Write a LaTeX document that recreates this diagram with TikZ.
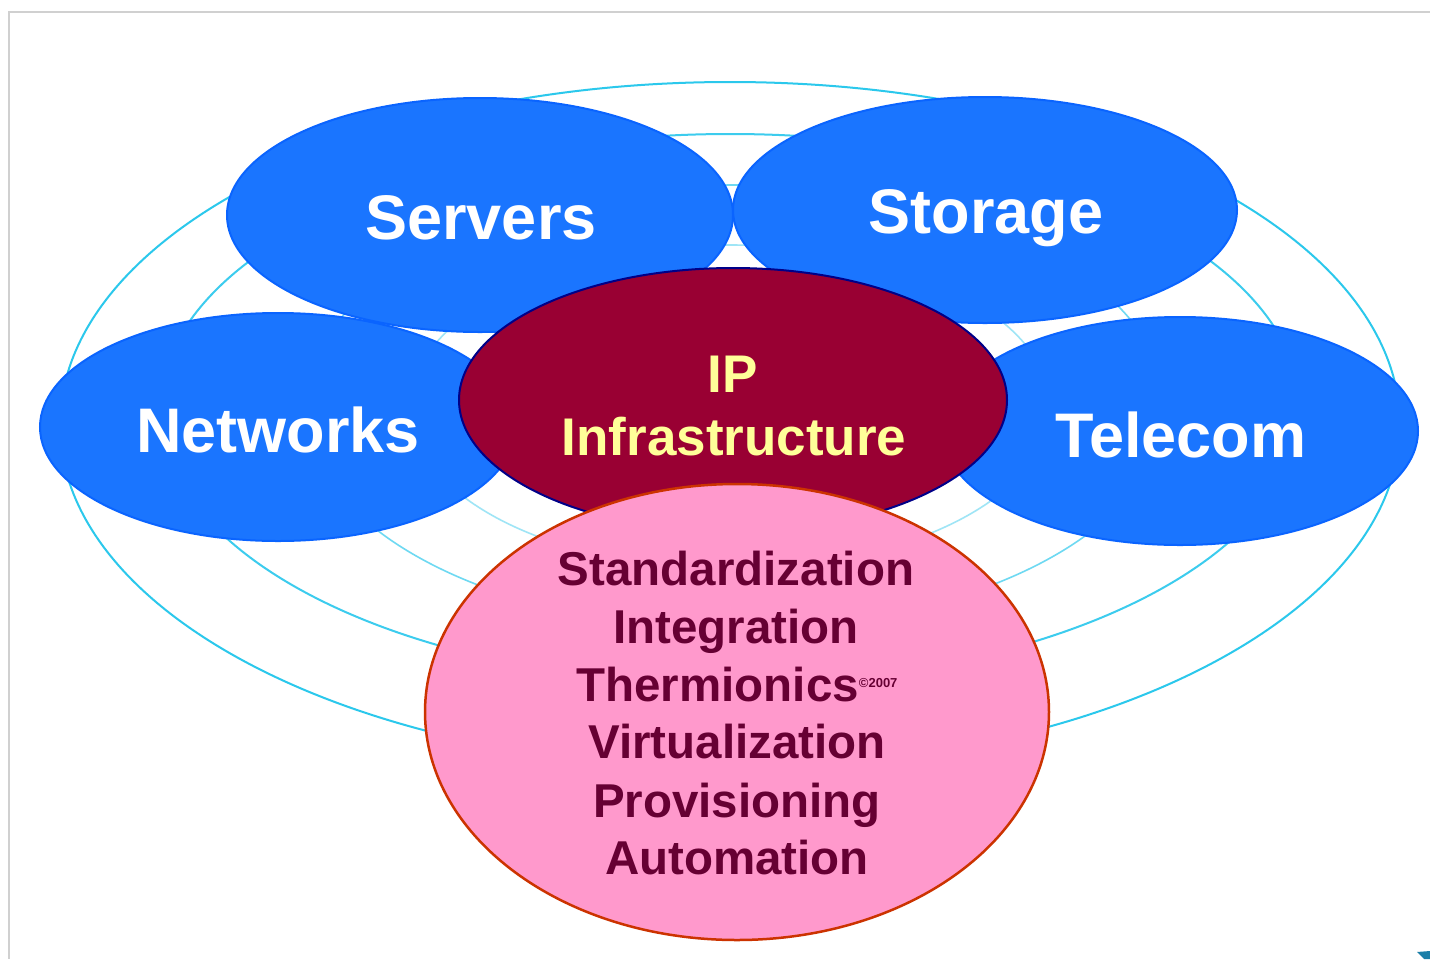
\documentclass[tikz,border=0pt]{standalone}
\usepackage{fontspec}
\setmainfont{Liberation Sans}
\usetikzlibrary{shapes.geometric}
\definecolor{ringA}{HTML}{2BC8EC}
\definecolor{ringB}{HTML}{3CCCEE}
\definecolor{ringC}{HTML}{6ED9F2}
\definecolor{ringD}{HTML}{9FE5F6}
\definecolor{bluefill}{HTML}{1A75FF}
\definecolor{blueedge}{HTML}{0A64FF}
\definecolor{ipfill}{HTML}{990033}
\definecolor{ipedge}{HTML}{000088}
\definecolor{ipyellow}{HTML}{FFFF99}
\definecolor{pinkfill}{HTML}{FF99CC}
\definecolor{pinkedge}{HTML}{CC3300}
\definecolor{pinktext}{HTML}{660033}
\definecolor{framegray}{HTML}{D0D0D0}
\definecolor{marktEal}{HTML}{1B7FA8}
\begin{document}
\begin{tikzpicture}[x=1pt,y=-1pt,
  ring/.style={ellipse, draw, inner sep=0pt, outer sep=0pt, line width=2pt},
  bluebox/.style={ellipse, draw=blueedge, fill=bluefill, line width=2pt, inner sep=0pt, outer sep=0pt, minimum width=#1},
  bluetext/.style={text=white, font=\bfseries\fontsize{63}{63}\selectfont, anchor=base, inner sep=0pt},
  iptext/.style={text=ipyellow, font=\bfseries\fontsize{53}{53}\selectfont, anchor=base, inner sep=0pt},
  pinkline/.style={text=pinktext, font=\bfseries\fontsize{47.5}{47.5}\selectfont, anchor=base, inner sep=0pt}
]
\useasboundingbox (0,0) rectangle (1430,959);
\fill[white] (0,0) rectangle (1430,959);
% frame
\coordinate (fTL) at (9,12);
\coordinate (fTR) at (1430,12);
\coordinate (fBL) at (9,959);
\draw[framegray, line width=2pt] (fTR) -- (fTL) -- (fBL);
% concentric rings
\node[ring, draw=ringA, minimum width=1340pt, minimum height=686pt] (ring1) at (730,425) {};
\node[ring, draw=ringB, minimum width=1140pt, minimum height=550pt] (ring2) at (730,409) {};
\node[ring, draw=ringC, line width=1.6pt, minimum width=860pt, minimum height=444pt] (ring3) at (735,407) {};
\node[ring, draw=ringD, line width=1.6pt, minimum width=640pt, minimum height=324pt] (ring4) at (730,407) {};
% blue ellipses
\node[bluebox=506pt, minimum height=234pt] (servers) at (480,215) {};
\node[bluebox=504pt, minimum height=226pt] (storage) at (985,210) {};
\node[bluebox=476pt, minimum height=228pt] (networks) at (278,427) {};
\node[bluebox=476pt, minimum height=228pt] (telecom) at (1180,431) {};
\node[bluetext] (serversT) at (481,239) {Servers};
\node[bluetext] (storageT) at (986,233) {Storage};
\node[bluetext] (networksT) at (278,452) {Networks};
\node[bluetext] (telecomT) at (1181,457) {Telecom};
% IP infrastructure
\node[ellipse, draw=ipedge, fill=ipfill, line width=2pt, inner sep=0pt, minimum width=548pt, minimum height=264pt] (ip) at (733,400) {};
\node[iptext] (ipT1) at (733,392) {IP};
\node[iptext] (ipT2) at (734,455) {Infrastructure};
% pink ellipse
\node[ellipse, draw=pinkedge, fill=pinkfill, line width=2.5pt, inner sep=0pt, minimum width=624pt, minimum height=456pt] (pink) at (737,712) {};
\node[pinkline] (p1) at (736,585) {Standardization};
\node[pinkline] (p2) at (736,643) {Integration};
\node[pinkline] (p3) at (737,701) {Thermionics{\fontsize{13}{13}\selectfont\raisebox{14pt}{©2007}}};
\node[pinkline] (p4) at (737,758) {Virtualization};
\node[pinkline] (p5) at (737,817) {Provisioning};
\node[pinkline] (p6) at (737,874) {Automation};
% corner mark
\fill[marktEal] (1417,952) -- (1430,951) -- (1430,959) -- (1424,959) -- cycle;
\end{tikzpicture}
\end{document}
